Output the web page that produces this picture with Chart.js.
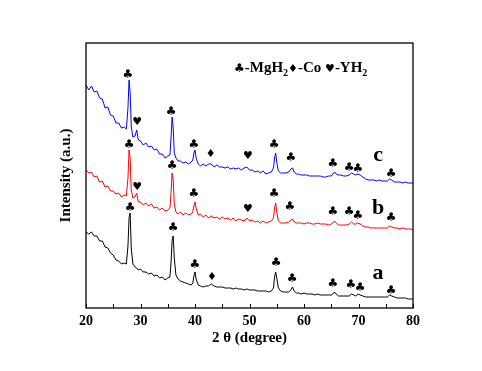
<!DOCTYPE html>
<html>
<head>
<meta charset="utf-8">
<script src="https://cdn.jsdelivr.net/npm/chart.js@4.4.0/dist/chart.umd.min.js"></script>
<style>
  body { margin: 0; background: #fff; }
</style>
</head>
<body>
<canvas id="xrd-chart" width="482" height="371"></canvas>
<script>
// 2 theta (degree), shared by the three patterns
var twoTheta = [20, 20.5, 21, 21.5, 22, 22.5, 23, 23.5, 24, 24.5, 25, 25.5, 26, 26.5, 27, 27.4, 27.7, 27.9, 28.1, 28.3,
  28.6, 29.0, 29.3, 29.6, 30, 30.5, 31, 31.5, 32, 32.5, 33, 33.5, 34, 34.5, 35, 35.4, 35.6, 35.8, 36.0, 36.2,
  36.5, 36.9, 37.3, 37.8, 38.3, 38.8, 39.3, 39.6, 39.8, 40.0, 40.2, 40.6, 41, 41.5, 42, 42.5, 43, 43.5, 44, 44.5,
  45, 45.5, 46, 46.5, 47, 47.5, 48, 48.5, 49, 49.5, 50, 50.5, 51, 51.5, 52, 52.5, 53, 53.5, 54, 54.4,
  54.6, 54.8, 55.0, 55.3, 55.7, 56.2, 56.7, 57.2, 57.6, 57.9, 58.2, 58.6, 59, 59.5, 60, 60.5, 61, 61.5, 62, 62.5,
  63, 63.5, 64, 64.5, 65, 65.3, 65.6, 65.9, 66.3, 66.8, 67.3, 67.8, 68.3, 68.7, 69.1, 69.5, 69.9, 70.3, 70.8, 71.3,
  71.8, 72.3, 72.8, 73.3, 73.8, 74.3, 74.8, 75.3, 75.7, 76.1, 76.6, 77.1, 77.6, 78.1, 78.6, 79.1, 79.6, 80];

// intensity (a.u.), curves already offset as in the figure
var intensityA = [76, 74, 76, 72, 72, 67, 67, 61, 60, 55, 53, 48, 47, 44, 45, 44, 62, 90, 95, 60,
  44, 41, 40, 38, 39, 36, 36, 34, 35, 32, 33, 30, 31, 28, 30, 31, 45, 68, 72, 50,
  33, 29, 27, 26, 25, 24, 23, 25, 32, 36, 29, 23, 22, 21, 22, 22, 24, 22, 21, 21,
  21, 20, 20, 20, 19, 20, 19, 19, 18, 19, 18, 18, 18, 17, 17, 17, 17, 16, 17, 20,
  31, 36, 30, 20, 17, 16, 16, 16, 18, 21, 17, 15, 15, 14, 15, 14, 14, 14, 13, 14,
  13, 13, 13, 13, 13, 14, 16, 14, 12, 12, 12, 12, 12, 14, 13, 12, 14, 13, 12, 11,
  11, 11, 11, 11, 11, 11, 11, 11, 13, 12, 11, 10, 10, 10, 10, 9, 9, 9];

var intensityB = [138, 135, 136, 131, 132, 126, 127, 121, 122, 117, 117, 114, 115, 111, 113, 112, 130, 158, 150, 118,
  110, 111, 115, 106, 106, 103, 105, 102, 104, 100, 101, 98, 100, 97, 98, 100, 115, 135, 128, 104,
  96, 94, 96, 93, 95, 93, 94, 96, 102, 106, 100, 93, 94, 91, 93, 90, 92, 90, 91, 89,
  91, 89, 90, 88, 90, 87, 89, 88, 87, 90, 87, 88, 86, 87, 85, 87, 85, 86, 87, 90,
  100, 105, 96, 87, 85, 85, 85, 86, 88, 89, 86, 85, 85, 85, 84, 85, 85, 84, 84, 85,
  84, 84, 84, 83, 84, 85, 87, 85, 83, 83, 83, 83, 84, 86, 84, 84, 85, 84, 82, 81,
  81, 80, 80, 80, 80, 80, 80, 80, 82, 81, 80, 80, 79, 80, 79, 79, 79, 78];

var intensityC = [223, 218, 222, 216, 217, 210, 209, 200, 201, 193, 192, 185, 185, 180, 181, 179, 200, 228, 215, 182,
  171, 172, 178, 168, 167, 163, 165, 161, 162, 158, 159, 154, 154, 150, 152, 153, 170, 191, 180, 155,
  150, 147, 147, 145, 146, 144, 146, 148, 155, 158, 150, 144, 142, 144, 142, 144, 144, 141, 143, 141,
  141, 140, 141, 139, 140, 139, 140, 138, 140, 141, 138, 138, 136, 137, 135, 137, 134, 135, 136, 140,
  150, 155, 146, 137, 135, 135, 135, 136, 139, 140, 136, 134, 134, 133, 133, 133, 132, 132, 132, 132,
  132, 131, 131, 132, 132, 134, 136, 134, 133, 133, 132, 132, 133, 135, 134, 133, 134, 133, 131, 129,
  128, 128, 128, 127, 128, 127, 127, 127, 129, 128, 126, 126, 126, 125, 126, 125, 125, 125];

// phase markers above the peaks
var markA_at = [28.1, 36.0, 40.0, 43.1, 54.9, 57.8, 65.3, 68.6, 70.3, 76.0];
var markA_h  = [100, 80, 43, 31, 45, 29, 24, 23, 20, 17];
var markA_s  = ['♣', '♣', '♣', '♦', '♣', '♣', '♣', '♣', '♣', '♣'];

var markB_at = [27.9, 29.4, 35.8, 39.8, 49.7, 54.5, 57.4, 65.3, 68.3, 69.9, 76.0];
var markB_h  = [163, 121, 142, 114, 99, 114, 101, 96, 96, 92, 90];
var markB_s  = ['♣', '♥', '♣', '♣', '♥', '♣', '♣', '♣', '♣', '♣', '♣'];

var markC_at = [27.7, 29.4, 35.6, 39.8, 42.9, 49.7, 54.5, 57.6, 65.3, 68.3, 69.9, 76.0];
var markC_h  = [233, 186, 196, 163, 154, 152, 163, 150, 144, 140, 139, 134];
var markC_s  = ['♣', '♥', '♣', '♣', '♦', '♥', '♣', '♣', '♣', '♣', '♣', '♣'];

var curveNames = ['a', 'b', 'c'];
var nameAt = 73.6;
var nameH = [35, 100, 153];

function points(ys) {
  return twoTheta.map(function(t, i){ return {x: t, y: ys[i]}; });
}

var marks = [
  {at: markA_at, h: markA_h, s: markA_s},
  {at: markB_at, h: markB_h, s: markB_s},
  {at: markC_at, h: markC_h, s: markC_s}
];

var serif = '"Liberation Serif", "Times New Roman", serif';
var sym = '"DejaVu Sans"';

var decorations = {
  id: 'decorations',
  afterDraw: function(chart) {
    var ctx = chart.ctx, xs = chart.scales.x, ys = chart.scales.y, a = chart.chartArea;
    ctx.save();
    ctx.fillStyle = '#000';
    ctx.strokeStyle = '#000';

    // frame
    ctx.lineWidth = 1.3;
    ctx.strokeRect(a.left, a.top, a.right - a.left, a.bottom - a.top);

    // inward ticks on the bottom axis
    ctx.lineWidth = 1;
    xs.ticks.forEach(function(t){
      var px = Math.round(xs.getPixelForValue(t.value)) + 0.5;
      ctx.beginPath();
      ctx.moveTo(px, a.bottom);
      ctx.lineTo(px, a.bottom - 4);
      ctx.stroke();
    });

    // peak markers
    ctx.textAlign = 'center';
    ctx.textBaseline = 'middle';
    marks.forEach(function(m){
      for (var i = 0; i < m.at.length; i++) {
        ctx.font = (m.s[i] == '♣' ? '12px ' : '11px ') + sym;
        ctx.fillText(m.s[i], xs.getPixelForValue(m.at[i]), ys.getPixelForValue(m.h[i]));
      }
    });

    // curve names
    ctx.font = 'bold 22px ' + serif;
    curveNames.forEach(function(n, i){
      ctx.fillText(n, xs.getPixelForValue(nameAt), ys.getPixelForValue(nameH[i]));
    });

    // phase key
    var runs = [
      ['♣', '12px ' + sym, 0], ['-MgH', 'bold 15px ' + serif, 0], ['2', 'bold 10px ' + serif, 4],
      ['♦', '11px ' + sym, 0], ['-Co ', 'bold 15px ' + serif, 0],
      ['♥', '11px ' + sym, 0], ['-YH', 'bold 15px ' + serif, 0], ['2', 'bold 10px ' + serif, 4]
    ];
    var kx = a.left + 148, ky = a.top + 29;
    ctx.textAlign = 'left';
    ctx.textBaseline = 'alphabetic';
    runs.forEach(function(r){
      ctx.font = r[1];
      ctx.fillText(r[0], kx, ky + r[2]);
      kx += ctx.measureText(r[0]).width;
    });
    ctx.restore();
  }
};

var ctx = document.getElementById('xrd-chart');
var xrdChart = new Chart(ctx, {
  type: 'line',
  data: {
    datasets: [
      {label: 'a', data: points(intensityA), borderColor: '#000000'},
      {label: 'b', data: points(intensityB), borderColor: '#ff0000'},
      {label: 'c', data: points(intensityC), borderColor: '#0000ff'}
    ]
  },
  options: {
    responsive: false,
    animation: false,
    events: [],
    layout: { padding: { top: 43, right: 69, bottom: 0, left: 0 } },
    elements: {
      line: { borderWidth: 1, tension: 0, fill: false },
      point: { radius: 0 }
    },
    plugins: {
      legend: { display: false },
      tooltip: { enabled: false }
    },
    scales: {
      x: {
        type: 'linear',
        min: 20,
        max: 80,
        grid: { display: false, drawTicks: false },
        border: { display: false },
        ticks: {
          stepSize: 5,
          autoSkip: false,
          maxRotation: 0,
          padding: 5,
          color: '#000',
          font: { family: serif, size: 14, weight: 'bold' },
          callback: function(v){ return v % 10 === 0 ? v : ''; }
        },
        title: {
          display: true,
          text: '2 θ (degree)',
          color: '#000',
          font: { family: serif, size: 15, weight: 'bold' },
          padding: { top: 0, bottom: 24 }
        },
        afterFit: function(scale){ scale.height = 63; }
      },
      y: {
        min: 0,
        max: 265,
        grid: { display: false, drawTicks: false },
        border: { display: false },
        ticks: { display: false },
        title: {
          display: true,
          text: 'Intensity (a.u.)',
          color: '#000',
          font: { family: serif, size: 15, weight: 'bold' },
          padding: { top: 57, bottom: 0 }
        },
        afterFit: function(scale){ scale.width = 86; }
      }
    }
  },
  plugins: [decorations]
});
</script>
</body>
</html>
